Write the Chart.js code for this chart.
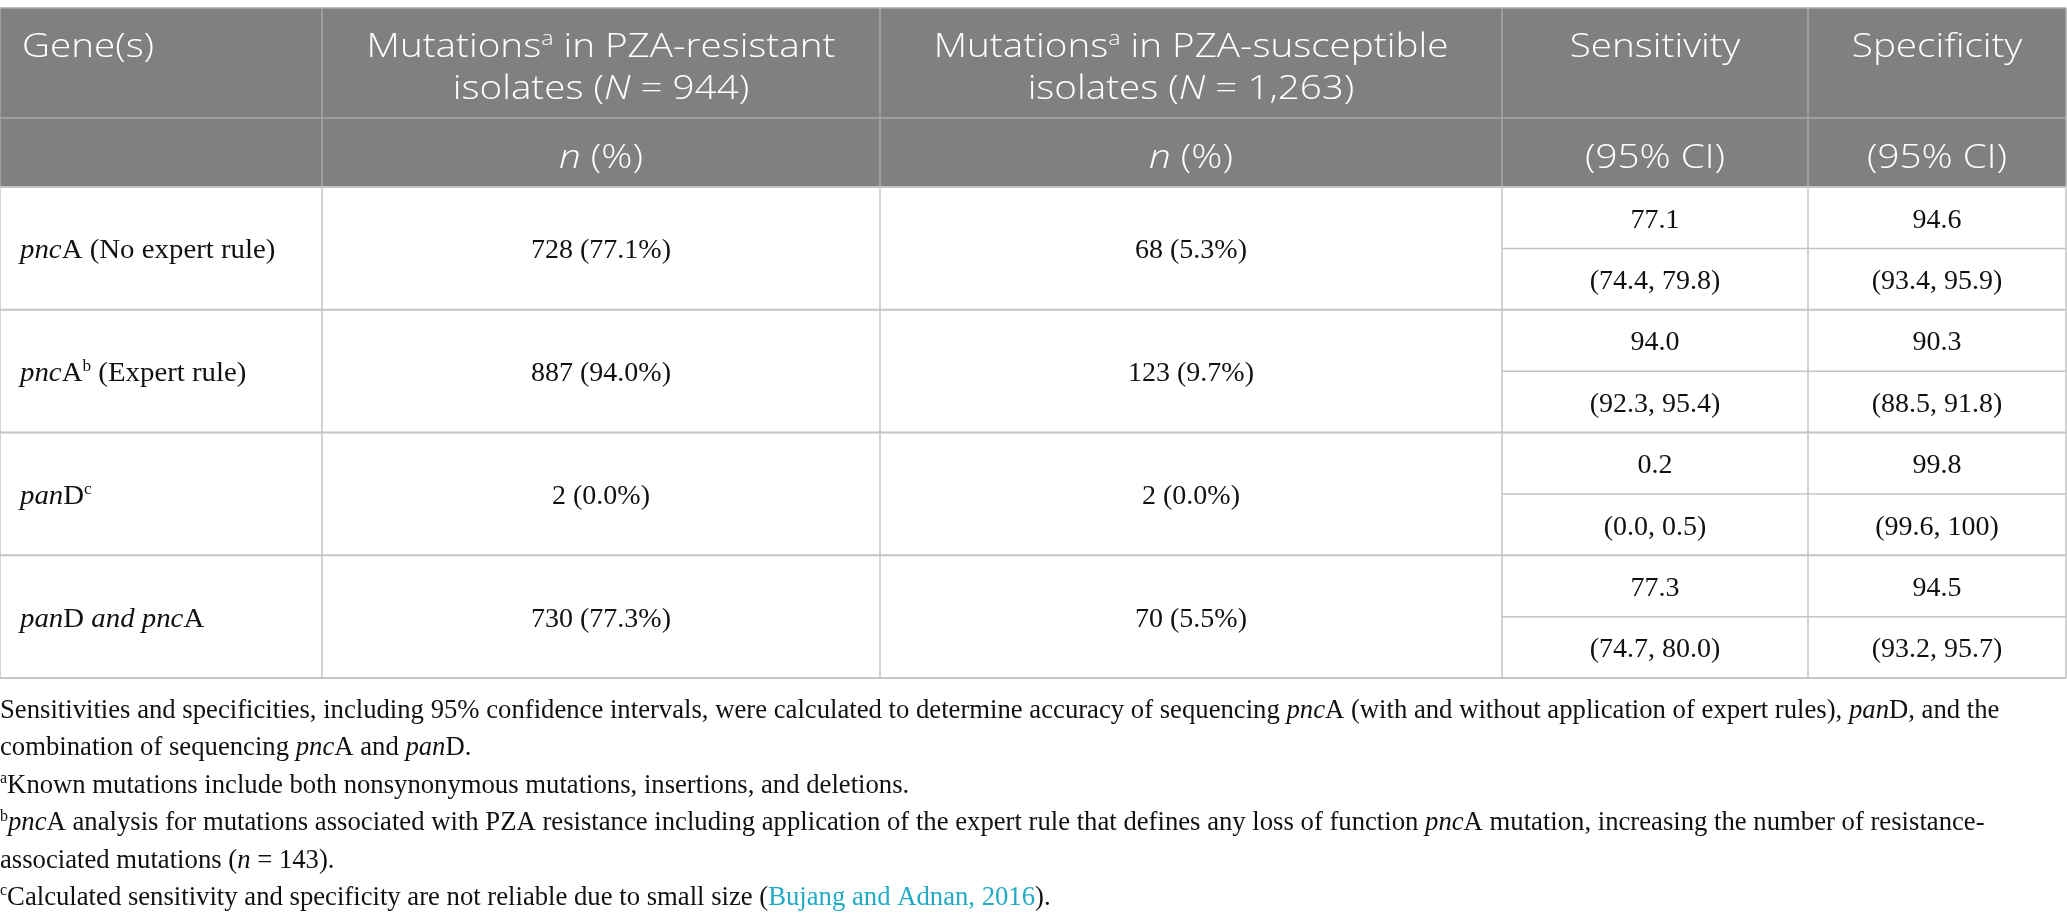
<!DOCTYPE html>
<html><head><meta charset="utf-8">
<script src="https://cdn.jsdelivr.net/npm/chart.js@4.4.1/dist/chart.umd.min.js"></script>
<style>html,body{margin:0;padding:0;background:#fff;overflow:hidden}#wrap{width:2067px;height:922px;position:relative}</style>
</head><body><div id="wrap"><canvas id="c"></canvas></div>
<script>
// ---- data (markup: *..* italic toggle, ^..^ superscript, #..# link) ----
const headerTop = ['Gene(s)', 'Mutations^a^ in PZA-resistant|isolates (*N* = 944)', 'Mutations^a^ in PZA-susceptible|isolates (*N* = 1,263)', 'Sensitivity', 'Specificity'];
const headerSub = ['', '*n* (%)', '*n* (%)', '(95% CI)', '(95% CI)'];
const geneLabels = ['*pnc*A (No expert rule)', '*pnc*A^b^ (Expert rule)', '*pan*D^c^', '*pan*D *and pnc*A'];
const resistantN = [728, 887, 2, 730];
const resistantPct = [77.1, 94.0, 0.0, 77.3];
const susceptibleN = [68, 123, 2, 70];
const susceptiblePct = [5.3, 9.7, 0.0, 5.5];
const sensitivity = [77.1, 94.0, 0.2, 77.3];
const sensLow = [74.4, 92.3, 0.0, 74.7];
const sensHigh = [79.8, 95.4, 0.5, 80.0];
const specificity = [94.6, 90.3, 99.8, 94.5];
const specLow = [93.4, 88.5, 99.6, 93.2];
const specHigh = [95.9, 91.8, 100, 95.7];
const footnotes = [
  'Sensitivities and specificities, including 95% confidence intervals, were calculated to determine accuracy of sequencing *pnc*A (with and without application of expert rules), *pan*D, and the',
  'combination of sequencing *pnc*A and *pan*D.',
  '^a^Known mutations include both nonsynonymous mutations, insertions, and deletions.',
  '^b^*pnc*A analysis for mutations associated with PZA resistance including application of the expert rule that defines any loss of function *pnc*A mutation, increasing the number of resistance-',
  'associated mutations (*n* = 143).',
  '^c^Calculated sensitivity and specificity are not reliable due to small size (#Bujang and Adnan, 2016#).'
];

// ---- layout (table units) ----
const colEdges = [0, 322, 880, 1502, 1808, 2066];
const tableTop = 8, headMid = 118, headBottom = 187, rowH = 122.75;
const footTop = 709, footStep = 37.4;
const SANS = '"Open Sans", "Noto Sans", sans-serif';
const SERIF = '"Liberation Serif", "Times New Roman", serif';

function fmt(v) { return v >= 100 ? String(v) : v.toFixed(1); }

function parse(str) {
  const runs = []; let it = false, sup = false, link = false, buf = '';
  const push = () => { if (buf) runs.push({ t: buf, it, sup, link }); buf = ''; };
  for (const ch of str) {
    if (ch === '*') { push(); it = !it; }
    else if (ch === '^') { push(); sup = !sup; }
    else if (ch === '#') { push(); link = !link; }
    else buf += ch;
  }
  push(); return runs;
}

function fontFor(r, size, family, weight) {
  const s = r.sup ? size * 0.6 : size;
  return (r.it ? 'italic ' : '') + weight + ' ' + s + 'px ' + family;
}

function drawRich(ctx, str, x, y, align, size, family, weight, color, hs) {
  hs = hs || 1;
  const runs = parse(str);
  let w = 0;
  runs.forEach(r => { ctx.font = fontFor(r, size, family, weight); r.w = ctx.measureText(r.t).width * hs; w += r.w; });
  let cx = align === 'center' ? x - w / 2 : x;
  ctx.textAlign = 'left'; ctx.textBaseline = 'alphabetic';
  runs.forEach(r => {
    ctx.font = fontFor(r, size, family, weight);
    ctx.fillStyle = r.link ? '#22aac4' : color;
    ctx.save();
    ctx.translate(cx, y - (r.sup ? size * 0.36 : 0));
    ctx.scale(hs, 1);
    ctx.fillText(r.t, 0, 0);
    ctx.restore();
    cx += r.w;
  });
}

const tablePlugin = {
  id: 'tablePlugin',
  afterDraw(chart) {
    const ctx = chart.ctx, xs = chart.scales.x, ys = chart.scales.y;
    const X = v => xs.getPixelForValue(v), Y = v => ys.getPixelForValue(v);
    const nRows = geneLabels.length;
    const tableBottom = headBottom + nRows * rowH;
    ctx.save();
    // header background
    ctx.fillStyle = '#808080';
    ctx.fillRect(X(colEdges[0]), Y(tableTop), X(colEdges[5]) - X(colEdges[0]), Y(headBottom) - Y(tableTop));
    // header lines
    ctx.strokeStyle = '#a9a9a9'; ctx.lineWidth = 1.5;
    const line = (x1, y1, x2, y2) => { ctx.beginPath(); ctx.moveTo(X(x1), Y(y1)); ctx.lineTo(X(x2), Y(y2)); ctx.stroke(); };
    line(colEdges[0], tableTop, colEdges[5], tableTop);
    line(colEdges[0], headMid, colEdges[5], headMid);
    for (let i = 0; i <= 5; i++) line(colEdges[i], tableTop, colEdges[i], headBottom);
    // body lines
    ctx.strokeStyle = '#c4c4c4';
    for (let i = 0; i <= 5; i++) { ctx.lineWidth = 1.5; line(colEdges[i], headBottom, colEdges[i], tableBottom); }
    for (let r = 0; r <= nRows; r++) { ctx.lineWidth = 2; line(colEdges[0], headBottom + r * rowH, colEdges[5], headBottom + r * rowH); }
    for (let r = 0; r < nRows; r++) { ctx.lineWidth = 1.5; line(colEdges[3], headBottom + r * rowH + rowH / 2, colEdges[5], headBottom + r * rowH + rowH / 2); }
    // header text
    const hSize = 33, hStretch = 1.17;
    headerTop.forEach((h, i) => {
      const lines = h.split('|');
      lines.forEach((t, k) => {
        const yy = 57 + k * 42;
        if (i === 0) drawRich(ctx, t, X(colEdges[0] + 22), Y(yy), 'left', hSize, SANS, 300, '#ffffff', hStretch);
        else drawRich(ctx, t, X((colEdges[i] + colEdges[i + 1]) / 2), Y(yy), 'center', hSize, SANS, 300, '#ffffff', hStretch);
      });
    });
    headerSub.forEach((h, i) => {
      if (!h) return;
      drawRich(ctx, h, X((colEdges[i] + colEdges[i + 1]) / 2), Y(168), 'center', hSize, SANS, 300, '#ffffff', hStretch);
    });
    // body text
    const bSize = 28;
    for (let r = 0; r < nRows; r++) {
      const top = headBottom + r * rowH, mid = top + rowH / 2;
      const cen = i => X((colEdges[i] + colEdges[i + 1]) / 2);
      drawRich(ctx, geneLabels[r], X(colEdges[0] + 20), Y(mid + 10), 'left', bSize, SERIF, 400, '#111', 1.03);
      drawRich(ctx, resistantN[r] + ' (' + fmt(resistantPct[r]) + '%)', cen(1), Y(mid + 10), 'center', bSize, SERIF, 400, '#111');
      drawRich(ctx, susceptibleN[r] + ' (' + fmt(susceptiblePct[r]) + '%)', cen(2), Y(mid + 10), 'center', bSize, SERIF, 400, '#111');
      drawRich(ctx, fmt(sensitivity[r]), cen(3), Y(top + rowH / 4 + 10), 'center', bSize, SERIF, 400, '#111');
      drawRich(ctx, '(' + fmt(sensLow[r]) + ', ' + fmt(sensHigh[r]) + ')', cen(3), Y(top + 3 * rowH / 4 + 10), 'center', bSize, SERIF, 400, '#111');
      drawRich(ctx, fmt(specificity[r]), cen(4), Y(top + rowH / 4 + 10), 'center', bSize, SERIF, 400, '#111');
      drawRich(ctx, '(' + fmt(specLow[r]) + ', ' + fmt(specHigh[r]) + ')', cen(4), Y(top + 3 * rowH / 4 + 10), 'center', bSize, SERIF, 400, '#111');
    }
    // footnotes
    footnotes.forEach((f, k) => {
      drawRich(ctx, f, X(0), Y(footTop + k * footStep + 9), 'left', 26.7, SERIF, 400, '#111');
    });
    ctx.restore();
  }
};

new Chart(document.getElementById('c'), {
  type: 'scatter',
  data: { datasets: [{ data: [], showLine: false }] },
  options: {
    responsive: true, maintainAspectRatio: false, animation: false,
    devicePixelRatio: 1,
    layout: { padding: 0 },
    plugins: { legend: { display: false }, tooltip: { enabled: false }, title: { display: false } },
    scales: {
      x: { type: 'linear', min: 0, max: 2067, display: false },
      y: { type: 'linear', min: 0, max: 922, reverse: true, display: false }
    }
  },
  plugins: [tablePlugin]
});
</script>
</body></html>
